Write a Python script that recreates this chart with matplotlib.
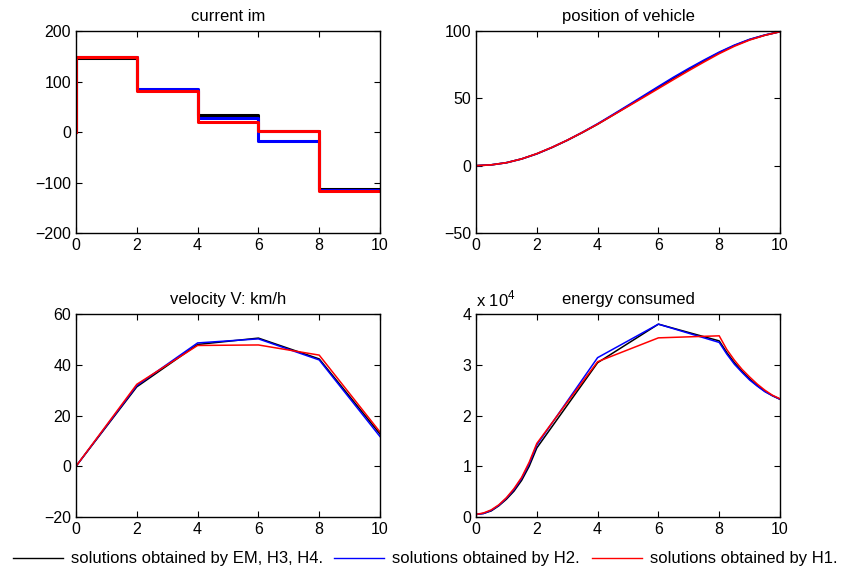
import numpy as np
import matplotlib
matplotlib.use('Agg')
import matplotlib.pyplot as plt
from matplotlib.lines import Line2D

plt.rcParams['font.family'] = ['Liberation Sans', 'DejaVu Sans']
plt.rcParams['mathtext.fontset'] = 'custom'
plt.rcParams['mathtext.rm'] = 'Liberation Sans'

# current im: step levels on [0,2), [2,4), [4,6), [6,8), [8,10]
t_steps = [0, 2, 4, 6, 8, 10]
cur_em = [146, 83, 34, 2, -113]
cur_h2 = [148, 86, 27, -18, -115]
cur_h1 = [149, 82, 20, 1, -117]

# position of vehicle (m)
t_pos = [0, 0.5, 1, 1.5, 2, 2.5, 3, 3.5, 4, 4.5, 5, 5.5, 6, 6.5, 7, 7.5, 8, 8.5, 9, 9.5, 10]
pos_em = [0, 0.6, 2.2, 5.0, 8.8, 13.5, 18.8, 24.6, 30.8, 37.5, 44.3, 51.2, 58.2, 65.1, 71.6, 77.9, 83.9, 89.2, 93.6, 96.9, 99.5]
pos_h2 = [0, 0.6, 2.2, 5.0, 8.8, 13.6, 18.9, 24.8, 31.1, 37.9, 44.8, 51.8, 58.8, 65.7, 72.2, 78.4, 84.3, 89.5, 93.8, 97.0, 99.5]
pos_h1 = [0, 0.6, 2.2, 5.0, 8.9, 13.6, 18.9, 24.7, 30.8, 37.4, 44.0, 50.6, 57.3, 64.0, 70.6, 77.0, 83.2, 88.7, 93.3, 96.8, 99.5]

# velocity V: km/h
t_vel = [0, 2, 4, 6, 8, 10]
vel_em = [0, 31.3, 48.0, 50.5, 42.3, 12.7]
vel_h2 = [0, 31.8, 48.6, 50.2, 41.9, 11.7]
vel_h1 = [0, 32.3, 47.6, 47.8, 43.8, 13.5]

# energy consumed (x 10^4)
t_en = [0, 0.25, 0.5, 0.75, 1, 1.25, 1.5, 1.75, 2, 3, 4, 6, 8,
        8.25, 8.5, 8.75, 9, 9.25, 9.5, 9.75, 10]
en_em = [0.05, 0.07, 0.12, 0.22, 0.35, 0.51, 0.72, 1.00, 1.36, 2.20, 3.04, 3.80, 3.47,
         3.24, 3.04, 2.87, 2.72, 2.59, 2.48, 2.39, 2.32]
en_h2 = [0.05, 0.07, 0.13, 0.23, 0.37, 0.54, 0.76, 1.05, 1.42, 2.28, 3.14, 3.80, 3.44,
         3.21, 3.01, 2.85, 2.70, 2.58, 2.47, 2.39, 2.32]
en_h1 = [0.05, 0.08, 0.14, 0.24, 0.38, 0.56, 0.78, 1.08, 1.45, 2.26, 3.06, 3.53, 3.57,
         3.30, 3.09, 2.91, 2.76, 2.62, 2.50, 2.40, 2.33]

labels = ['solutions obtained by EM, H3, H4.', 'solutions obtained by H2.',
          'solutions obtained by H1.']
colors = ['black', 'blue', 'red']

fs = 12
fs_tick = 11.5
fig = plt.figure(figsize=(8.5, 5.8), dpi=100)
W, H = 850.0, 580.0


def make_ax(x0, y0, x1, y1):
    ax = fig.add_axes([x0 / W, 1 - y1 / H, (x1 - x0) / W, (y1 - y0) / H])
    ax.tick_params(direction='in', top=True, right=True, length=4, width=0.8,
                   labelsize=fs_tick, pad=3.5)
    for s in ax.spines.values():
        s.set_linewidth(1.0)
    ax.set_xlim(0, 10)
    ax.set_xticks([0, 2, 4, 6, 8, 10])
    return ax


ax1 = make_ax(76, 31, 380, 233)
ax2 = make_ax(476, 31, 780, 233)
ax3 = make_ax(76, 314, 380, 517)
ax4 = make_ax(476, 314, 780, 517)

# current
for lv, c in zip([cur_em, cur_h2, cur_h1], colors):
    xs = [0] + t_steps
    ys = [0] + lv + [lv[-1]]
    ax1.step(xs, ys, where='post', color=c, lw=2.2)
ax1.set_ylim(-200, 200)
ax1.set_yticks([-200, -100, 0, 100, 200])
ax1.set_title('current im', fontsize=fs, pad=7)

# position
for p, c in zip([pos_em, pos_h2, pos_h1], colors):
    ax2.plot(t_pos, p, color=c, lw=1.2)
ax2.set_ylim(-50, 100)
ax2.set_yticks([-50, 0, 50, 100])
ax2.set_title('position of vehicle', fontsize=fs, pad=7)

# velocity
for v, c in zip([vel_em, vel_h2, vel_h1], colors):
    ax3.plot(t_vel, v, color=c, lw=1.1)
ax3.set_ylim(-20, 60)
ax3.set_yticks([-20, 0, 20, 40, 60])
ax3.set_title('velocity V: km/h', fontsize=fs, pad=7)

# energy
for e, c in zip([en_em, en_h2, en_h1], colors):
    ax4.plot(t_en, e, color=c, lw=1.1)
ax4.set_ylim(0, 4)
ax4.set_yticks([0, 1, 2, 3, 4])
ax4.set_title('energy consumed', fontsize=fs, pad=7)
ax4.text(0.0, 1.025, r'x 10$^4$', transform=ax4.transAxes, ha='left', va='bottom',
         fontsize=fs)

handles = [Line2D([], [], color=c, lw=1.0) for c in colors]
fig.legend(handles, labels, loc='center', bbox_to_anchor=(0.5, 1 - 559 / H),
           ncol=3, frameon=False, fontsize=fs, handlelength=3.0,
           handletextpad=0.48, columnspacing=0.7)

fig.savefig('out.png', dpi=100)
